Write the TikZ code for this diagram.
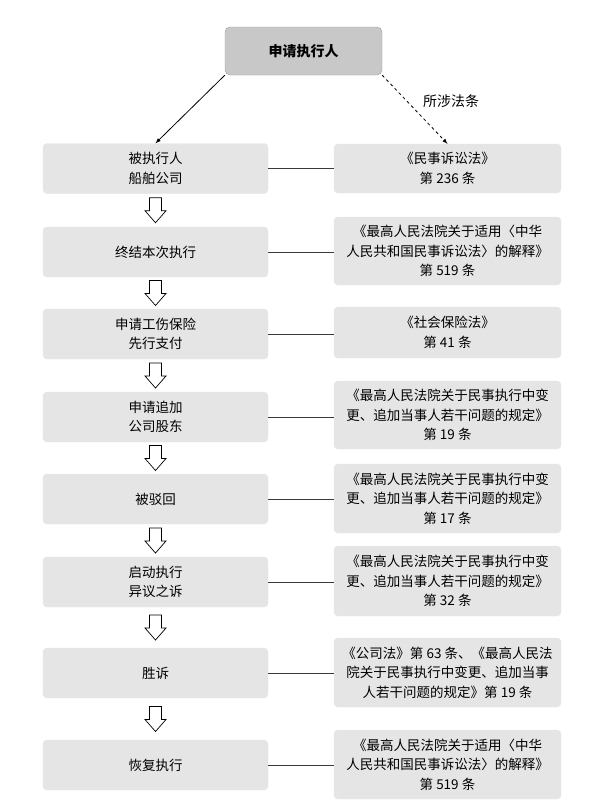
\documentclass[tikz,border=0pt]{standalone}
\usepackage{fontspec}
\setmainfont{Noto Sans CJK SC}
\usetikzlibrary{calc}
\definecolor{boxgray}{HTML}{E5E5E5}
\definecolor{topgray}{HTML}{C8C8C8}
\definecolor{topedge}{HTML}{9C9C9C}
\definecolor{linegray}{HTML}{3A3A3A}

\begin{document}
\begin{tikzpicture}[x=1pt,y=-1pt]
		\tikzset{stepbox/.style={fill=boxgray,draw=black!10,rounded corners=4pt,inner sep=0pt,align=center,font=\fontsize{13.5}{19.5}\selectfont},
			leftbox/.style={stepbox,minimum width=225pt,minimum height=50pt},
			lawbox/.style={stepbox,minimum width=227pt},
			link/.style={draw=linegray,line width=0.9pt},
			pics/hollowarrow/.style={code={\draw[line width=0.7pt,fill=white,line join=miter] (-6,-12.5)--(6,-12.5)--(6,0.5)--(10.5,0.5)--(0,12.5)--(-10.5,0.5)--(-6,0.5)--cycle;}}};
		\useasboundingbox (0,0) rectangle (600,811);
		% top box
		\node[fill=topgray,draw=topedge,rounded corners=5pt,minimum width=157pt,minimum height=48pt,font=\fontsize{14}{16}\selectfont\bfseries] (applicant) at (303.5,51) {申请执行人};
		% steps on the left
		\node[leftbox] (l1) at (155.5,168.5) {被执行人\\船舶公司};
		\node[leftbox] (l2) at (155.5,252) {终结本次执行};
		\node[leftbox] (l3) at (155.5,334) {申请工伤保险\\先行支付};
		\node[leftbox] (l4) at (155.5,417) {申请追加\\公司股东};
		\node[leftbox] (l5) at (155.5,499) {被驳回};
		\node[leftbox] (l6) at (155.5,582) {启动执行\\异议之诉};
		\node[leftbox] (l7) at (155.5,673) {胜诉};
		\node[leftbox] (l8) at (155.5,765) {恢复执行};
		% laws on the right
		\node[lawbox,minimum height=49pt] (r1) at (447.5,168.5) {《民事诉讼法》\\第 236 条};
		\node[lawbox,minimum height=68pt] (r2) at (447.5,251) {《最高人民法院关于适用〈中华\\人民共和国民事诉讼法〉的解释》\\第 519 条};
		\node[lawbox,minimum height=51pt] (r3) at (447.5,332.5) {《社会保险法》\\第 41 条};
		\node[lawbox,minimum height=68pt] (r4) at (447.5,415) {《最高人民法院关于民事执行中变\\更、追加当事人若干问题的规定》\\第 19 条};
		\node[lawbox,minimum height=69pt] (r5) at (447.5,498.5) {《最高人民法院关于民事执行中变\\更、追加当事人若干问题的规定》\\第 17 条};
		\node[lawbox,minimum height=70pt] (r6) at (447.5,581) {《最高人民法院关于民事执行中变\\更、追加当事人若干问题的规定》\\第 32 条};
		\node[lawbox,minimum height=69pt] (r7) at (447.5,672.5) {《公司法》第 63 条、《最高人民法\\院关于民事执行中变更、追加当事\\人若干问题的规定》第 19 条};
		\node[lawbox,minimum height=69pt] (r8) at (447.5,764.5) {《最高人民法院关于适用〈中华\\人民共和国民事诉讼法〉的解释》\\第 519 条};
		% from the applicant
		\draw[-latex,line width=0.8pt] (applicant.south west) -- (l1.north);
		\draw[-latex,line width=0.8pt,dashed] (applicant.south east) -- (r1.north);
		\node[font=\fontsize{14}{16}\selectfont] (lawlabel) at (451,101) {所涉法条};
		% links to the laws
		\draw[link] (l1.east) -- (l1.east -| r1.west);
		\draw[link] (l2.east) -- (l2.east -| r2.west);
		\draw[link] (l3.east) -- (l3.east -| r3.west);
		\draw[link] (l4.east) -- (l4.east -| r4.west);
		\draw[link] (l5.east) -- (l5.east -| r5.west);
		\draw[link] (l6.east) -- (l6.east -| r6.west);
		\draw[link] (l7.east) -- (l7.east -| r7.west);
		\draw[link] (l8.east) -- (l8.east -| r8.west);
		% hollow arrows between the steps
		\pic at ($(l1.south)!0.5!(l2.north)$) {hollowarrow};
		\pic at ($(l2.south)!0.5!(l3.north)$) {hollowarrow};
		\pic at ($(l3.south)!0.5!(l4.north)$) {hollowarrow};
		\pic at ($(l4.south)!0.5!(l5.north)$) {hollowarrow};
		\pic at ($(l5.south)!0.5!(l6.north)$) {hollowarrow};
		\pic at ($(l6.south)!0.5!(l7.north)$) {hollowarrow};
		\pic at ($(l7.south)!0.5!(l8.north)$) {hollowarrow};
	\end{tikzpicture}
\end{document}
